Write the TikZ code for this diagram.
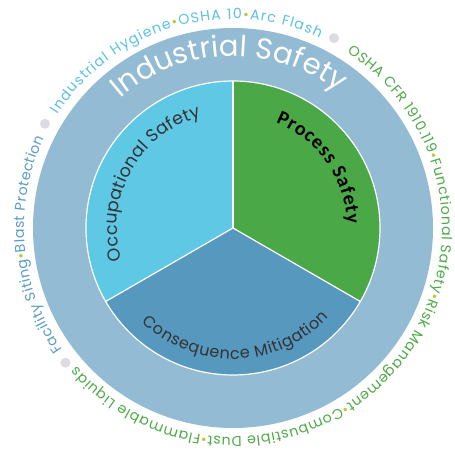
\documentclass[tikz,border=0pt]{standalone}
\usepackage{fontspec}
\setmainfont{Poppins}
\newfontfamily\boldlabel{Carlito}
\usetikzlibrary{decorations.text}

\definecolor{ringblue}{HTML}{93BBD3}
\definecolor{occblue}{HTML}{5FC8E4}
\definecolor{procgreen}{HTML}{4BA846}
\definecolor{consblue}{HTML}{5698BE}
\definecolor{textgrey}{HTML}{333333}
\definecolor{cyantext}{HTML}{5BC1E2}
\definecolor{steeltext}{HTML}{5A9CC8}
\definecolor{greentext}{HTML}{4DAA47}
\definecolor{dotyellow}{HTML}{B9CB35}
\definecolor{dotgrey}{HTML}{DCDCE0}

\newcommand\ringfmt[1]{\fontsize{14.2}{16}\selectfont\color{#1}}
\newcommand\innerfmt[1]{\fontsize{#1}{#1}\selectfont\color{textgrey}}

\tikzset{
  arctext/.style={decorate, decoration={text along path, text align={fit to path}}}
}

\begin{document}
\begin{tikzpicture}[x=1pt,y=1pt]
\useasboundingbox (-233,-224) rectangle (222,228);
% outer ring and the three sectors
\fill [ringblue] (0,0) circle (200);
\fill [occblue] (0,0) -- (90:147) arc (90:210:147) -- cycle;
\fill [procgreen] (0,0) -- (-30:147) arc (-30:90:147) -- cycle;
\fill [consblue] (0,0) -- (210:147) arc (210:330:147) -- cycle;
\draw [white, line width=1.2] (0,0) circle (147);
\foreach \a in {90,210,330}
  \draw [white, line width=1.2] (0,0) -- (\a:147);
% labels inside
\path [arctext, decoration={text={|\fontsize{29}{31}\selectfont\color{white}|Industrial Safety}}] (131:172) arc (131:52:172);
\path [arctext, decoration={text={|\innerfmt{17.5}|Occupational Safety}}] (196:116) arc (196:106:116);
\path [arctext, decoration={text={|\fontsize{20}{22}\selectfont\boldlabel\bfseries\color{black}|Process Safety}}] (68:114) arc (68:2:114);
\path [arctext, decoration={text={|\innerfmt{16}|Consequence Mitigation}}] (226:131) arc (226:317:131);
% outer words
\foreach \a in {218.8,151,62}
  \fill [dotgrey] (\a:215) circle (5);
\path [arctext, decoration={text={|\ringfmt{steeltext}|Facility Siting|\ringfmt{dotyellow}|•|\ringfmt{steeltext}|Blast Protection}}] (215.5:209) arc (215.5:154.5:209);
\path [arctext, decoration={text={|\ringfmt{cyantext}|Industrial Hygiene|\ringfmt{dotyellow}|•|\ringfmt{cyantext}|OSHA 10|\ringfmt{dotyellow}|•|\ringfmt{cyantext}|Arc Flash}}] (147:209) arc (147:65.5:209);
\path [arctext, decoration={text={|\ringfmt{greentext}|OSHA CFR 1910.119|\ringfmt{dotyellow}|•|\ringfmt{greentext}|Functional Safety|\ringfmt{dotyellow}|•|\ringfmt{greentext}|Risk Management|\ringfmt{dotyellow}|•|\ringfmt{greentext}|Combustible Dust|\ringfmt{dotyellow}|•|\ringfmt{greentext}|Flammable Liquids}}] (57:209) arc (57:-138.5:209);
\end{tikzpicture}
\end{document}
